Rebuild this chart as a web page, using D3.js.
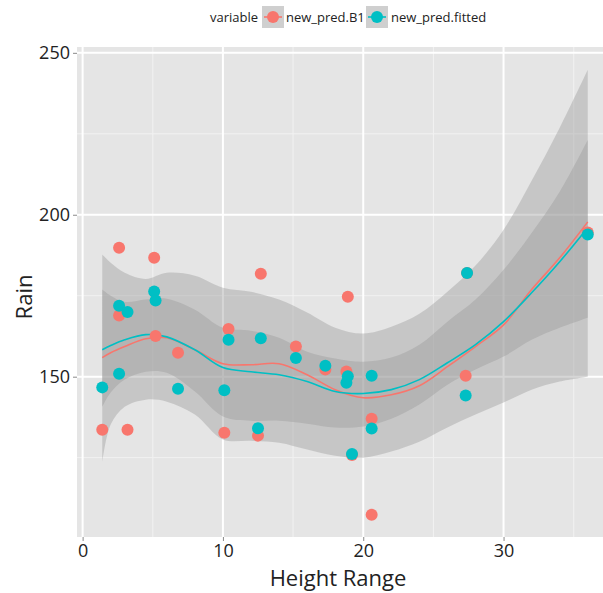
<!DOCTYPE html>
<html>
<head>
<meta charset="utf-8">
<script src="https://cdn.jsdelivr.net/npm/d3@7"></script>
<style>
  body { margin: 0; background: #fff; }
  svg { display: block; font-family: "Open Sans", sans-serif; }
</style>
</head>
<body>
<svg id="chart"></svg>
<script>
// points (same x for both series)
var heightRange = [1.4, 2.6, 2.6, 3.2, 5.1, 5.2, 6.8, 10.1, 10.4, 12.5, 12.7, 15.2, 17.3, 18.8, 18.9, 19.2, 20.6, 20.6, 27.3, 27.4, 36.0];
var predB1     = [133.6, 189.8, 168.9, 133.6, 186.7, 162.6, 157.4, 132.7, 164.7, 131.8, 181.8, 159.3, 152.2, 151.6, 174.7, 125.8, 137.0, 107.4, 150.3, 182.0, 194.5];
var predFitted = [146.7, 150.9, 171.9, 170.0, 176.3, 173.5, 146.3, 145.8, 161.4, 134.1, 161.9, 155.8, 153.4, 148.1, 150.1, 126.1, 150.3, 134.0, 144.2, 182.0, 193.9];

// smoother + confidence band, read at these x positions
var smoothX = [1.4, 2, 3, 4.5, 6, 8, 10, 12, 14, 16, 18, 20, 22, 24, 26, 28, 30, 32, 34, 36];
var b1Smooth = [155.9, 157.4, 159.3, 161.7, 162.0, 158.3, 154.0, 153.7, 154.0, 150.6, 146.0, 143.5, 144.4, 147.2, 153.1, 159.3, 166.0, 176.9, 186.7, 197.8];
var b1Upper  = [187.7, 185.2, 182.1, 180.2, 182.1, 181.2, 177.5, 176.2, 173.8, 169.8, 165.1, 163.3, 165.4, 169.4, 176.2, 184.3, 195.4, 210.5, 226.9, 244.8];
var b1Lower  = [123.5, 135.2, 140.7, 142.9, 142.3, 138.3, 130.6, 130.2, 129.6, 127.5, 125.6, 125.0, 126.9, 129.9, 134.3, 138.3, 142.0, 146.0, 148.5, 150.0];
var fitSmooth = [158.3, 159.6, 161.4, 163.0, 162.3, 158.3, 152.8, 151.5, 150.6, 148.5, 145.4, 144.8, 146.0, 149.1, 154.3, 159.9, 167.0, 175.9, 185.5, 196.0];
var fitUpper  = [176.9, 175.0, 173.1, 173.8, 174.1, 170.7, 165.1, 164.2, 162.0, 157.7, 155.6, 154.6, 155.9, 159.9, 167.0, 173.8, 183.0, 194.4, 207.1, 223.1];
var fitLower  = [140.7, 145.1, 149.1, 151.5, 151.2, 145.4, 137.7, 136.4, 136.4, 135.5, 134.3, 134.6, 137.0, 141.4, 147.5, 152.2, 156.2, 161.4, 165.1, 168.2];

var seriesNames = ["new_pred.B1", "new_pred.fitted"];
var seriesColors = ["#F8766D", "#00BFC4"];
var xTicks = [0, 10, 20, 30];
var xMinor = [5, 15, 25, 35];
var yTicks = [150, 200, 250];
var yMinor = [125, 175, 225];

var width = 603, height = 593;
var pLeft = 77, pRight = 613, pTop = 47, pBottom = 537;

var svg = d3.select("#chart").attr("width", width).attr("height", height);

var x = d3.scaleLinear().domain([-0.4, 37.8]).range([pLeft, pRight]);
var y = d3.scaleLinear().domain([100.5, 251.8]).range([pBottom, pTop]);

svg.append("defs").append("clipPath").attr("id", "panel")
  .append("rect").attr("x", pLeft).attr("y", pTop).attr("width", pRight - pLeft).attr("height", pBottom - pTop);

svg.append("rect")
  .attr("x", pLeft).attr("y", pTop)
  .attr("width", pRight - pLeft).attr("height", pBottom - pTop)
  .attr("fill", "#E5E5E5");

var g = svg.append("g").attr("clip-path", "url(#panel)");

// grid
g.selectAll(".xminor").data(xMinor).enter().append("line")
  .attr("x1", d => x(d)).attr("x2", d => x(d)).attr("y1", pTop).attr("y2", pBottom)
  .attr("stroke", "#F2F2F2").attr("stroke-width", 1);
g.selectAll(".yminor").data(yMinor).enter().append("line")
  .attr("y1", d => y(d)).attr("y2", d => y(d)).attr("x1", pLeft).attr("x2", pRight)
  .attr("stroke", "#F2F2F2").attr("stroke-width", 1);
g.selectAll(".xmajor").data(xTicks).enter().append("line")
  .attr("x1", d => x(d)).attr("x2", d => x(d)).attr("y1", pTop).attr("y2", pBottom)
  .attr("stroke", "white").attr("stroke-width", 2);
g.selectAll(".ymajor").data(yTicks).enter().append("line")
  .attr("y1", d => y(d)).attr("y2", d => y(d)).attr("x1", pLeft).attr("x2", pRight)
  .attr("stroke", "white").attr("stroke-width", 2);

// bands
var bands = [[b1Lower, b1Upper], [fitLower, fitUpper]];
var area = d3.area()
  .x(d => x(d[0])).y0(d => y(d[1])).y1(d => y(d[2]))
  .curve(d3.curveCatmullRom);
bands.forEach(function(b) {
  var pts = smoothX.map((v, i) => [v, b[0][i], b[1][i]]);
  g.append("path").datum(pts)
    .attr("fill", "#999999").attr("fill-opacity", 0.4)
    .attr("d", area);
});

// smooth lines
var line = d3.line().x(d => x(d[0])).y(d => y(d[1])).curve(d3.curveCatmullRom);
[b1Smooth, fitSmooth].forEach(function(s, k) {
  g.append("path").datum(smoothX.map((v, i) => [v, s[i]]))
    .attr("fill", "none").attr("stroke", seriesColors[k]).attr("stroke-width", 1.6)
    .attr("d", line);
});

// points
[predB1, predFitted].forEach(function(s, k) {
  g.selectAll(".p" + k).data(heightRange.map((v, i) => [v, s[i]])).enter().append("circle")
    .attr("cx", d => x(d[0])).attr("cy", d => y(d[1])).attr("r", 6)
    .attr("fill", seriesColors[k]);
});

// axes
var xAxis = svg.append("g").attr("transform", "translate(0," + pBottom + ")")
  .call(d3.axisBottom(x).tickValues(xTicks).tickSize(4).tickPadding(3).tickFormat(d3.format("d")));
var yAxis = svg.append("g").attr("transform", "translate(" + pLeft + ",0)")
  .call(d3.axisLeft(y).tickValues(yTicks).tickSize(4).tickPadding(3).tickFormat(d3.format("d")));
[xAxis, yAxis].forEach(function(a) {
  a.select(".domain").remove();
  a.selectAll(".tick line").attr("stroke", "#8A8A8A");
  a.selectAll(".tick text").attr("fill", "#222").attr("font-size", 18)
    .attr("font-family", "Open Sans, sans-serif");
});

svg.append("text")
  .attr("x", 338).attr("y", 586)
  .attr("text-anchor", "middle").attr("font-size", 22).attr("fill", "#222")
  .text("Height Range");
svg.append("text")
  .attr("transform", "translate(32,297) rotate(-90)")
  .attr("text-anchor", "middle").attr("font-size", 22).attr("fill", "#222")
  .text("Rain");

// legend
var lg = svg.append("g");
lg.append("text").attr("x", 210).attr("y", 22).attr("font-size", 13).attr("fill", "#222").text("variable");
var keyX = [262, 366], labX = [286, 391];
seriesNames.forEach(function(n, k) {
  lg.append("rect").attr("x", keyX[k]).attr("y", 6).attr("width", 22).attr("height", 22).attr("fill", "#CFCFCF");
  lg.append("line").attr("x1", keyX[k] + 2).attr("x2", keyX[k] + 20).attr("y1", 17).attr("y2", 17)
    .attr("stroke", seriesColors[k]).attr("stroke-width", 1.6);
  lg.append("circle").attr("cx", keyX[k] + 11).attr("cy", 17).attr("r", 6).attr("fill", seriesColors[k]);
  lg.append("text").attr("x", labX[k]).attr("y", 22).attr("font-size", 13).attr("fill", "#222").text(n);
});
</script>
</body>
</html>
